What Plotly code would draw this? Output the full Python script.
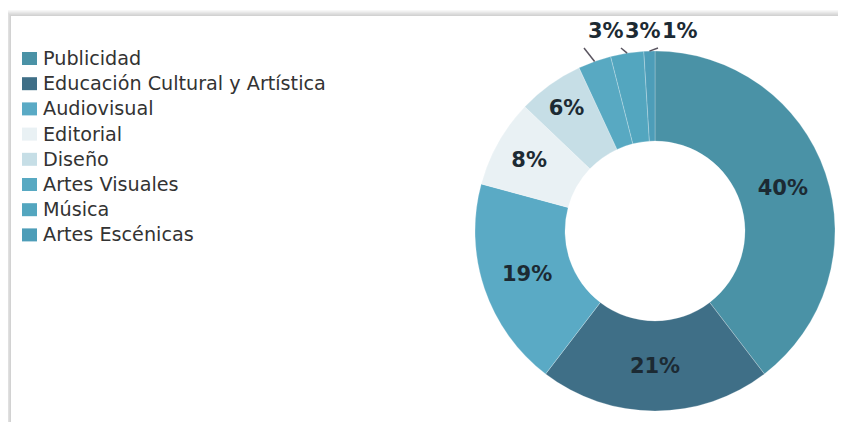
import math
import plotly.graph_objects as go

categories = ["Publicidad", "Educación Cultural y Artística", "Audiovisual", "Editorial",
              "Diseño", "Artes Visuales", "Música", "Artes Escénicas"]
values = [40, 21, 19, 8, 6, 3, 3, 1]
colors = ["#4a92a6", "#3f6f87", "#5aaac5", "#e9f1f4", "#c6dee6", "#58a9c2", "#53a6bf", "#4d9db8"]
outside = [False, False, False, False, False, True, True, True]

W, H = 846, 422
OFF = 8  # the page body has an 8px margin; positions below are given in window pixels


def px_x(x):
    return (x - OFF) / W


def px_y(y):
    return 1 - (y - OFF) / H


cx, cy, r = 655, 231, 180
LABEL_FONT = dict(family="DejaVu Sans", size=21, color="#1c2a33", weight="bold")

fig = go.Figure(go.Pie(
    labels=categories,
    values=values,
    hole=0.5,
    sort=False,
    direction="clockwise",
    rotation=0,
    marker=dict(colors=colors, line=dict(color="rgba(255,255,255,0.3)", width=0.8)),
    texttemplate="%{value}%",
    textposition=["none" if o else "inside" for o in outside],
    insidetextorientation="horizontal",
    textfont=LABEL_FONT,
    insidetextfont=LABEL_FONT,
    domain=dict(x=[px_x(cx - r), px_x(cx + r)], y=[px_y(cy + r), px_y(cy - r)]),
    hoverinfo="label+percent",
    showlegend=False,
))

shapes = []
annotations = []

# card shadow (decoration)
grays = ["#f7f7f7", "#f0f0f0", "#e8e8e8", "#e0e0e0", "#d9d9d9", "#d2d2d2"]
for i, g in enumerate(grays):
    y0 = 10 + i
    shapes.append(dict(type="rect", xref="paper", yref="paper", x0=px_x(5 + i), x1=1.05,
                       y0=px_y(y0 + 1), y1=px_y(y0), fillcolor=g, line=dict(width=0), layer="below"))
    x0 = 5 + i
    shapes.append(dict(type="rect", xref="paper", yref="paper", x0=px_x(x0), x1=px_x(x0 + 1),
                       y0=-0.05, y1=px_y(y0), fillcolor=g, line=dict(width=0), layer="below"))

# legend (built from categories/colors)
leg_x, leg_y0, leg_dy, sq_w, sq_h = 22, 58.5, 25.2, 15, 13
for i, (cat, col) in enumerate(zip(categories, colors)):
    yc = leg_y0 + i * leg_dy
    shapes.append(dict(type="rect", xref="paper", yref="paper",
                       x0=px_x(leg_x), x1=px_x(leg_x + sq_w),
                       y0=px_y(yc + sq_h / 2), y1=px_y(yc - sq_h / 2),
                       fillcolor=col, line=dict(width=0)))
    annotations.append(dict(xref="paper", yref="paper", x=px_x(leg_x + sq_w + 4), y=px_y(yc),
                            xanchor="left", yanchor="middle", showarrow=False, text=cat,
                            font=dict(family="DejaVu Sans", size=19.2, color="#333333")))

# outside labels for the small slices, in a row above the ring
total = sum(values)
cum = 0
row_x, row_y, row_step = 606, 31.5, 37
k = 0
for v, o in zip(values, outside):
    mid = (cum + v / 2) / total * 2 * math.pi
    cum += v
    if not o:
        continue
    ppx = cx + r * math.sin(mid)
    ppy = cy - r * math.cos(mid)
    lx = row_x + k * row_step
    annotations.append(dict(xref="paper", yref="paper", x=px_x(lx), y=px_y(row_y),
                            xanchor="center", yanchor="middle", showarrow=False,
                            text=f"{v}%", font=LABEL_FONT))
    ex, ey = lx - 22, 48
    shapes.append(dict(type="line", xref="paper", yref="paper",
                       x0=px_x(ppx), y0=px_y(ppy), x1=px_x(ex), y1=px_y(ey),
                       line=dict(color="#5a5560", width=1.5)))
    k += 1

fig.update_layout(
    width=W, height=H,
    margin=dict(l=0, r=0, t=0, b=0),
    paper_bgcolor="white",
    plot_bgcolor="white",
    font=dict(family="DejaVu Sans", color="#333333"),
    shapes=shapes,
    annotations=annotations,
    showlegend=False,
)

fig.write_html("out.html")
